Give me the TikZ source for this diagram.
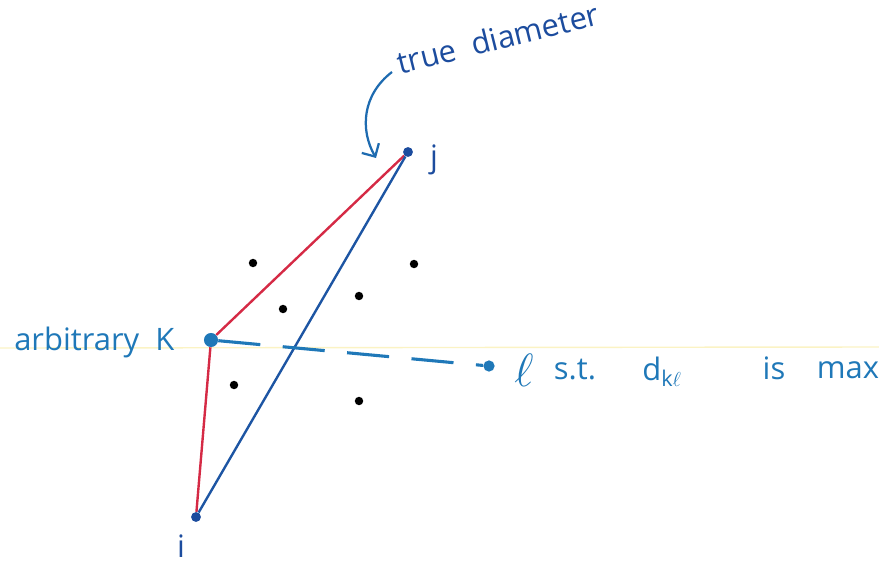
\documentclass[tikz,border=0pt]{standalone}
\usepackage{fontspec}
\setmainfont{Open Sans}
\usepackage{xcolor}
\usetikzlibrary{positioning, arrows.meta}
\definecolor{inkBlue}{HTML}{1f78b8}
\definecolor{inkNavy}{HTML}{1c4c9e}
\definecolor{inkRed}{HTML}{d52a45}
\definecolor{paperLine}{HTML}{fbf3c4}

\begin{document}
\begin{tikzpicture}[x=0.025cm, y=-0.025cm, pt/.style={circle, fill=black, inner sep=0pt, minimum size=6pt}, vtx/.style={circle, fill=inkNavy, inner sep=0pt, minimum size=7pt}, lbl/.style={text=inkBlue, font=\fontsize{22}{26}\selectfont, inner sep=1pt}, redge/.style={inkRed, line width=1.7pt}, bedge/.style={inkNavy!80!inkBlue, line width=1.7pt}, darrow/.style={inkBlue, line width=2.2pt, dash pattern=on 30pt off 16pt}]
\useasboundingbox (0,0) rectangle (879,565);
\draw[paperLine, line width=1pt] (0,348) -- (879,347);
% points of the set
\node[pt] (p1) at (253,263) {}; \node[pt] (p2) at (414,264) {};
\node[pt] (p3) at (283,309) {}; \node[pt] (p4) at (359,296) {};
\node[pt] (p5) at (234,385) {}; \node[pt] (p6) at (359,401) {};
\node[vtx] (j) at (408,152) {};
\node[vtx, fill=inkBlue, minimum size=10pt] (k) at (211,340) {};
\node[vtx] (i) at (196,517) {};
\node[vtx, fill=inkBlue, minimum size=8pt] (l) at (489,366) {};
\draw[redge] (k)--(j); \draw[redge] (k)--(i);
\draw[bedge] (i)--(j);
\draw[darrow] (k)--(l);
% labels
\node[lbl, text=inkNavy] (jl) at (434,160) {j};
\node[lbl, text=inkNavy] (il) at (181,546) {i};
\node[lbl, anchor=east] (kl) at (176,342) {arbitrary \ K};
\node[lbl] (ll) at (524,370) {\scalebox{1.6}{$\ell$}};
\node[lbl] (st) at (575,370) {s.t.};
\node[lbl] (dkl) at (662,372) {d\textsubscript{k$\ell$}};
\node[lbl] (is) at (774,368) {is};
\node[lbl] (mx) at (848,370) {max};
\node[lbl, text=inkNavy, rotate=14] (td) at (498,38) {true \ diameter};
\coordinate (tdin) at (392,72);
\coordinate (tdout) at (376,158);
\draw[-{Straight Barb[length=7pt]}, inkBlue!70!inkNavy, line width=1.6pt] (tdin) .. controls (362,95) and (360,130) .. (tdout);
\end{tikzpicture}
\end{document}
